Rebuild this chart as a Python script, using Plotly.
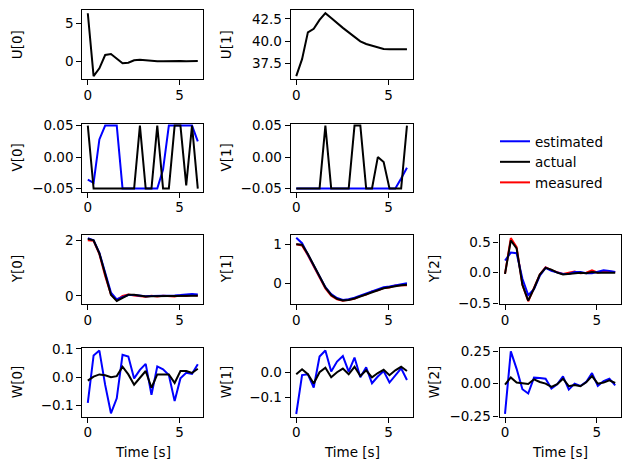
import numpy as np
import plotly.graph_objects as go

# ---- data ----
t = np.linspace(0, 6, 20)

U0_act = [6.35, -2.0, -0.97, 0.8, 0.93, 0.35, -0.3, -0.22, 0.1, 0.18, 0.1, 0.0, -0.03, -0.02, 0.02, 0.05, 0.0, -0.03, 0.0, 0.0]
U1_act = [36.1, 38.0, 41.0, 41.4, 42.4, 43.15, 42.6, 42.0, 41.5, 41.0, 40.5, 40.0, 39.7, 39.5, 39.3, 39.15, 39.1, 39.12, 39.15, 39.12]

V0_est = [-0.036, -0.041, 0.028, 0.05, 0.05, 0.05, -0.05, -0.05, -0.05, -0.05, -0.05, -0.05, -0.05, -0.02, 0.05, 0.05, 0.05, 0.05, 0.05, 0.025]
V0_act = [0.05, -0.05, -0.05, -0.05, -0.05, -0.05, -0.05, -0.05, -0.05, 0.05, -0.05, -0.05, 0.05, -0.05, -0.05, 0.05, 0.05, -0.045, 0.05, -0.05]
V1_est = [-0.05] * 18 + [-0.034, -0.017]
V1_act = [-0.05, -0.05, -0.05, -0.05, -0.05, 0.05, -0.05, -0.05, -0.05, -0.05, 0.05, 0.05, -0.05, -0.05, 0.0, -0.008, -0.05, -0.05, -0.05, 0.05]

Y0_est = [2.08, 2.0, 1.55, 0.85, 0.12, -0.12, -0.05, 0.03, 0.03, 0.0, -0.01, 0.0, 0.0, 0.01, 0.01, 0.02, 0.03, 0.06, 0.07, 0.05]
Y0_act = [2.05, 2.0, 1.53, 0.75, 0.04, -0.18, -0.06, 0.04, 0.04, 0.0, -0.02, -0.01, 0.0, 0.0, 0.0, 0.0, 0.01, 0.01, 0.01, 0.01]
Y0_meas = [2.0, 1.98, 1.5, 0.72, 0.05, -0.15, 0.0, 0.05, 0.02, -0.01, -0.03, 0.01, -0.02, 0.01, 0.0, -0.02, 0.02, 0.0, 0.03, 0.02]
Y1_est = [1.17, 1.03, 0.74, 0.45, 0.17, -0.1, -0.28, -0.38, -0.43, -0.41, -0.37, -0.32, -0.26, -0.2, -0.15, -0.1, -0.08, -0.05, -0.02, 0.0]
Y1_act = [1.0, 0.99, 0.75, 0.45, 0.16, -0.11, -0.3, -0.4, -0.44, -0.43, -0.39, -0.34, -0.28, -0.22, -0.17, -0.13, -0.1, -0.07, -0.05, -0.04]
Y1_meas = [1.0, 0.97, 0.72, 0.43, 0.14, -0.13, -0.32, -0.41, -0.45, -0.42, -0.4, -0.33, -0.29, -0.21, -0.18, -0.12, -0.11, -0.06, -0.06, -0.05]
Y2_est = [0.2, 0.33, 0.32, -0.1, -0.37, -0.27, -0.05, 0.08, 0.03, 0.0, -0.02, -0.02, 0.01, 0.01, -0.01, -0.01, 0.01, 0.04, 0.03, 0.01]
Y2_act = [-0.02, 0.53, 0.4, -0.2, -0.46, -0.26, -0.03, 0.08, 0.05, 0.0, -0.03, -0.02, 0.0, 0.0, -0.01, 0.01, 0.0, 0.0, 0.01, 0.0]
Y2_meas = [-0.02, 0.57, 0.42, -0.2, -0.47, -0.25, -0.03, 0.09, 0.04, 0.01, -0.02, 0.0, 0.02, -0.01, 0.0, 0.04, 0.0, 0.02, 0.01, 0.01]

W0_est = [-0.09, 0.077, 0.094, -0.027, -0.127, -0.074, 0.079, 0.073, -0.004, 0.026, 0.047, -0.062, 0.038, 0.028, 0.008, -0.084, -0.004, 0.016, 0.012, 0.046]
W0_act = [-0.012, 0.002, 0.01, 0.007, 0.0, 0.004, 0.037, 0.01, -0.026, 0.0, 0.022, -0.037, 0.01, 0.01, 0.01, -0.02, 0.022, 0.022, 0.015, 0.03]
W1_est = [-0.167, -0.011, -0.008, -0.061, 0.063, 0.087, 0.003, 0.043, 0.065, 0.003, 0.059, -0.02, 0.02, -0.044, -0.017, 0.005, -0.041, -0.011, 0.016, -0.031]
W1_act = [-0.008, 0.012, -0.008, -0.045, 0.0, 0.018, -0.02, 0.0, 0.015, -0.008, 0.022, -0.015, 0.008, -0.02, -0.003, 0.01, -0.012, 0.008, 0.022, 0.005]
W2_est = [-0.233, 0.248, 0.114, -0.043, -0.076, 0.046, 0.043, 0.038, -0.038, -0.005, 0.056, -0.046, 0.0, -0.018, 0.013, 0.081, -0.018, 0.02, 0.038, -0.013]
W2_act = [-0.008, 0.048, 0.008, 0.003, -0.003, 0.033, 0.013, 0.0, -0.025, -0.005, 0.038, -0.02, -0.01, -0.02, 0.01, 0.058, 0.0, 0.008, 0.025, 0.005]

x_ticks = [0, 5]
x_tick_labels = ["0", "5"]

W, H = 630, 470
col_px = [(82.3, 203.3), (290.7, 412.5), (499.5, 620.7)]
row_px = [(10, 79.3), (124, 192), (235, 304.3), (348.3, 417)]
title_x_px = [16.5, 225.5, 433.5]

BLUE, BLACK, RED = "#0000ff", "#000000", "#ff0000"
FONT = "DejaVu Sans"
FS = 13.5

panels = [
    (0, 0, "U[0]", [(None, None, U0_act)], [-2.43, 6.78], [0, 5], ["0", "5"]),
    (0, 1, "U[1]", [(None, None, U1_act)], [35.75, 43.5], [37.5, 40.0, 42.5], ["37.5", "40.0", "42.5"]),
    (1, 0, "V[0]", [(V0_est, None, V0_act)], [-0.0555, 0.0525], [-0.05, 0, 0.05], ["\u22120.05", "0.00", "0.05"]),
    (1, 1, "V[1]", [(V1_est, None, V1_act)], [-0.0555, 0.0525], [-0.05, 0, 0.05], ["\u22120.05", "0.00", "0.05"]),
    (2, 0, "Y[0]", [(Y0_est, Y0_meas, Y0_act)], [-0.3, 2.19], [0, 2], ["0", "2"]),
    (2, 1, "Y[1]", [(Y1_est, Y1_meas, Y1_act)], [-0.54, 1.24], [0, 1], ["0", "1"]),
    (2, 2, "Y[2]", [(Y2_est, Y2_meas, Y2_act)], [-0.52, 0.62], [-0.5, 0.0, 0.5], ["\u22120.5", "0.0", "0.5"]),
    (3, 0, "W[0]", [(W0_est, None, W0_act)], [-0.14, 0.102], [-0.1, 0.0, 0.1], ["\u22120.1", "0.0", "0.1"]),
    (3, 1, "W[1]", [(W1_est, None, W1_act)], [-0.179, 0.096], [-0.1, 0.0], ["\u22120.1", "0.0"]),
    (3, 2, "W[2]", [(W2_est, None, W2_act)], [-0.257, 0.272], [-0.25, 0.0, 0.25], ["\u22120.25", "0.00", "0.25"]),
]

fig = go.Figure()
layout = dict(
    template="none",
    width=W, height=H, margin=dict(l=0, r=0, t=0, b=0, pad=0, autoexpand=False),
    paper_bgcolor="white", plot_bgcolor="white",
    font=dict(family=FONT, size=FS, color="black"),
    showlegend=True,
)
annotations = []

axis_common = dict(showline=True, mirror=True, linecolor="black", linewidth=1.1,
                   ticks="outside", ticklen=5, tickwidth=1.1, tickcolor="black",
                   showgrid=False, zeroline=False, automargin=False,
                   tickfont=dict(family=FONT, size=FS, color="black"))

for i, (r, c, label, series, yr, ytv, ytt) in enumerate(panels):
    n = i + 1
    xa = f"xaxis{n}" if n > 1 else "xaxis"
    ya = f"yaxis{n}" if n > 1 else "yaxis"
    xref = f"x{n}" if n > 1 else "x"
    yref = f"y{n}" if n > 1 else "y"
    x0, x1 = col_px[c]
    top, bot = row_px[r]
    layout[xa] = dict(axis_common, domain=[x0 / W, x1 / W], range=[-0.3, 6.3],
                      tickvals=x_ticks, ticktext=x_tick_labels, anchor=yref,
                      ticklabelstandoff=-2)
    layout[ya] = dict(axis_common, domain=[1 - bot / H, 1 - top / H], range=yr,
                      tickvals=ytv, ticktext=ytt, anchor=xref)
    for est, meas, act in series:
        if meas is not None:
            fig.add_trace(go.Scatter(x=t, y=meas, mode="lines", line=dict(color=RED, width=2),
                                     xaxis=xref, yaxis=yref, showlegend=False, hoverinfo="skip"))
        if est is not None:
            fig.add_trace(go.Scatter(x=t, y=est, mode="lines", line=dict(color=BLUE, width=2),
                                     xaxis=xref, yaxis=yref, showlegend=False, hoverinfo="skip"))
        fig.add_trace(go.Scatter(x=t, y=act, mode="lines", line=dict(color=BLACK, width=2),
                                 xaxis=xref, yaxis=yref, showlegend=False, hoverinfo="skip"))
    annotations.append(dict(text=label, x=title_x_px[c] / W, y=1 - (top + bot) / 2 / H,
                            xref="paper", yref="paper", xanchor="center", yanchor="middle",
                            textangle=-90, showarrow=False,
                            font=dict(family=FONT, size=FS, color="black")))
    if r == 3:
        annotations.append(dict(text="Time [s]", x=(x0 + x1) / 2 / W, y=1 - 451.5 / H,
                                xref="paper", yref="paper", xanchor="center", yanchor="middle",
                                showarrow=False, font=dict(family=FONT, size=FS, color="black")))

for name, col in [("estimated", BLUE), ("actual", BLACK), ("measured", RED)]:
    fig.add_trace(go.Scatter(x=[None], y=[None], mode="lines", name=name,
                             line=dict(color=col, width=2), showlegend=True))

layout["legend"] = dict(x=495 / W, y=1 - 126 / H, xanchor="left", yanchor="top",
                        bgcolor="rgba(0,0,0,0)", borderwidth=0,
                        font=dict(family=FONT, size=FS, color="black"),
                        tracegroupgap=0)
layout["annotations"] = annotations
fig.update_layout(**layout)

fig.write_html("out.html")
